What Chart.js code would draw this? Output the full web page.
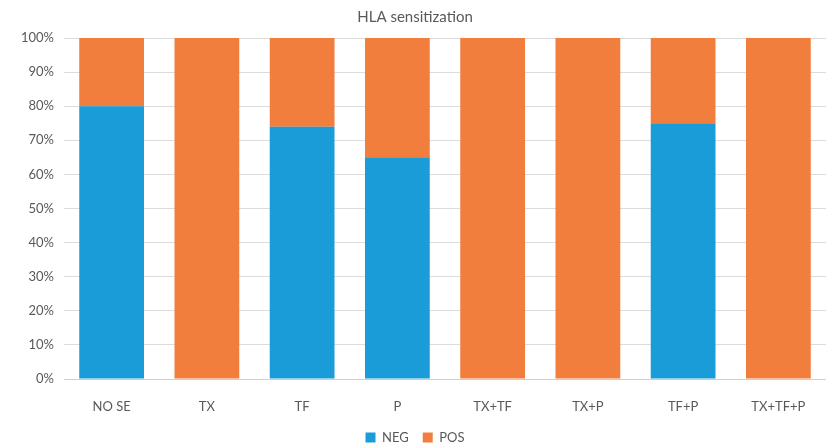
<!DOCTYPE html>
<html>
<head>
<meta charset="utf-8">
<script src="https://cdn.jsdelivr.net/npm/chart.js@4/dist/chart.umd.min.js"></script>
<style>
  html, body { margin: 0; padding: 0; background: #fff; }
  #wrap { width: 826px; height: 444px; }
</style>
</head>
<body>
<div id="wrap"><canvas id="myChart"></canvas></div>
<script>
// categories and percentages
var groups = ['NO SE', 'TX', 'TF', 'P', 'TX+TF', 'TX+P', 'TF+P', 'TX+TF+P'];
var negValues = [80, 0, 74, 65, 0, 0, 75, 0];
var posValues = [20, 100, 26, 35, 100, 100, 25, 100];
var yTicks = [0, 10, 20, 30, 40, 50, 60, 70, 80, 90, 100];

var grey = '#595959';

var ctx = document.getElementById('myChart').getContext('2d');
var myChart = new Chart(ctx, {
    type: 'bar',
    data: {
        labels: groups,
        datasets: [{
            label: 'NEG',
            data: negValues,
            backgroundColor: '#1a9cd8',
            categoryPercentage: 0.68,
            barPercentage: 1
        }, {
            label: 'POS',
            data: posValues,
            backgroundColor: '#f27e3d',
            categoryPercentage: 0.68,
            barPercentage: 1
        }]
    },
    options: {
        responsive: true,
        maintainAspectRatio: false,
        animation: false,
        layout: { padding: { left: 4, right: 0, top: 0, bottom: -10 } },
        plugins: {
            title: {
                display: true,
                text: 'HLA sensitization',
                color: grey,
                font: { family: 'Lato', size: 15, weight: 'normal' },
                padding: { top: 8, bottom: 12 }
            },
            legend: {
                position: 'bottom',
                labels: {
                    color: grey,
                    font: { family: 'Lato', size: 13 },
                    boxWidth: 10,
                    boxHeight: 10,
                    padding: 14
                }
            },
            tooltip: { enabled: false }
        },
        scales: {
            x: {
                stacked: true,
                grid: { display: false },
                border: { color: '#d0d0d0' },
                afterFit: function (scale) { scale.height = 38; },
                ticks: {
                    color: grey,
                    font: { family: 'Lato', size: 13 },
                    padding: 12
                }
            },
            y: {
                stacked: true,
                min: 0,
                max: 100,
                afterBuildTicks: function (scale) {
                    scale.ticks = yTicks.map(function (v) { return { value: v }; });
                },
                afterFit: function (scale) { scale.width = 60; },
                grid: { color: '#dcdcdc', drawTicks: false },
                border: { display: false },
                ticks: {
                    color: grey,
                    font: { family: 'Lato', size: 13 },
                    padding: 10,
                    callback: function (v) { return v + '%'; }
                }
            }
        }
    }
});
</script>
</body>
</html>
